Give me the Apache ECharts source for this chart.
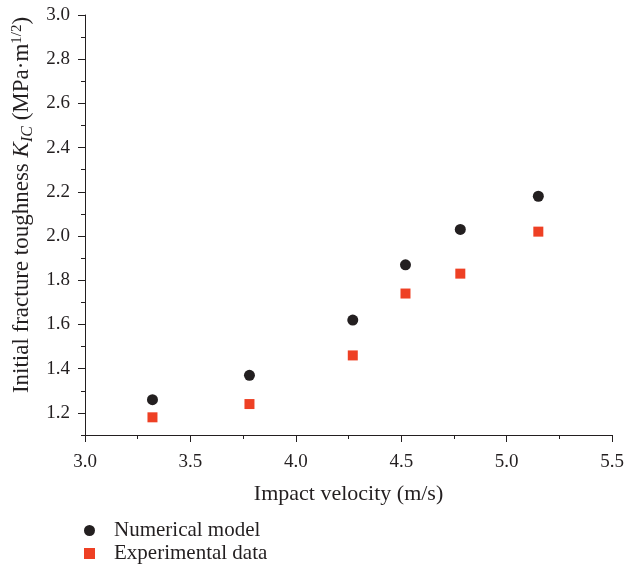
<!DOCTYPE html>
<html>
<head>
<meta charset="utf-8">
<script src="https://cdn.jsdelivr.net/npm/echarts@6.0.0/dist/echarts.min.js"></script>
<style>
  html, body { margin: 0; padding: 0; background: #fff; }
  #chart { width: 627px; height: 567px; }
</style>
</head>
<body>
<div id="chart"></div>
<script>
// impact velocity (m/s)
const velocity = [3.32, 3.78, 4.27, 4.52, 4.78, 5.15];
// K_IC values
const numericalModel = [1.26, 1.37, 1.62, 1.87, 2.03, 2.18];
const experimentalData = [1.18, 1.24, 1.46, 1.74, 1.83, 2.02];
const yTickLabels = [1.2, 1.4, 1.6, 1.8, 2.0, 2.2, 2.4, 2.6, 2.8, 3.0];

const INK = "#231f20";
const RED = "#ee4024";
const FONT = "Liberation Serif";

const chart = echarts.init(document.getElementById("chart"), null, { renderer: "canvas" });

const tickText = { color: INK, fontFamily: FONT, fontSize: 19 };

chart.setOption({
  animation: false,
  backgroundColor: "#fff",
  grid: { left: 85, right: 9, top: 15, bottom: 132 },
  legend: {
    orient: "vertical",
    left: 84,
    top: 520,
    padding: 0,
    itemGap: 2,
    itemWidth: 11,
    itemHeight: 11,
    textStyle: { color: INK, fontFamily: FONT, fontSize: 21, lineHeight: 21, padding: [0, 0, 0, 14] },
    data: [
      { name: "Numerical model", icon: "circle" },
      { name: "Experimental data", icon: "rect" },
    ],
  },
  xAxis: {
    type: "value",
    min: 3.0,
    max: 5.5,
    interval: 0.5,
    name: "Impact velocity (m/s)",
    nameLocation: "middle",
    nameGap: 48,
    nameTextStyle: { color: INK, fontFamily: FONT, fontSize: 22 },
    axisLine: { lineStyle: { color: INK, width: 1 } },
    axisTick: { inside: false, length: 7, lineStyle: { color: INK } },
    minorTick: { show: true, splitNumber: 2, length: 4, lineStyle: { color: INK } },
    axisLabel: { ...tickText, margin: 18, formatter: (v) => v.toFixed(1) },
    splitLine: { show: false },
  },
  yAxis: [
    {
      type: "value",
      min: 1.1,
      max: 3.0,
      interval: 0.1,
      name: "{n|Initial fracture toughness }{i|K}{sub|IC}{n| (MPa·m}{sup|1/2}{n|)}",
      nameLocation: "middle",
      nameGap: 48,
      nameTextStyle: {
        color: INK,
        fontFamily: FONT,
        fontSize: 23,
        padding: [0, 0, 0, 40],
        rich: {
          n: { color: INK, fontFamily: FONT, fontSize: 23, lineHeight: 26 },
          i: { color: INK, fontFamily: FONT, fontSize: 23, fontStyle: "italic", lineHeight: 26 },
          sub: { color: INK, fontFamily: FONT, fontSize: 16, fontStyle: "italic", verticalAlign: "bottom", lineHeight: 26, padding: [7, 0, 0, 0] },
          sup: { color: INK, fontFamily: FONT, fontSize: 15, verticalAlign: "top", lineHeight: 26, padding: [0, 0, 7, 0] },
        },
      },
      axisLine: { lineStyle: { color: INK, width: 1 } },
      axisTick: { length: 7, lineStyle: { color: INK }, customValues: yTickLabels },
      axisLabel: { ...tickText, margin: 15, customValues: yTickLabels, formatter: (v) => v.toFixed(1) },
      splitLine: { show: false },
    },
    {
      // minor ticks every 0.1
      type: "value",
      position: "left",
      min: 1.1,
      max: 3.0,
      interval: 0.1,
      axisLine: { show: false },
      axisTick: { length: 4, lineStyle: { color: INK } },
      axisLabel: { show: false },
      splitLine: { show: false },
    },
  ],
  series: [
    {
      name: "Numerical model",
      type: "scatter",
      symbol: "circle",
      symbolSize: 11,
      itemStyle: { color: INK, opacity: 1 },
      data: velocity.map((v, i) => [v, numericalModel[i]]),
    },
    {
      name: "Experimental data",
      type: "scatter",
      symbol: "rect",
      symbolSize: 10,
      itemStyle: { color: RED, opacity: 1 },
      data: velocity.map((v, i) => [v, experimentalData[i]]),
    },
  ],
});
</script>
</body>
</html>
